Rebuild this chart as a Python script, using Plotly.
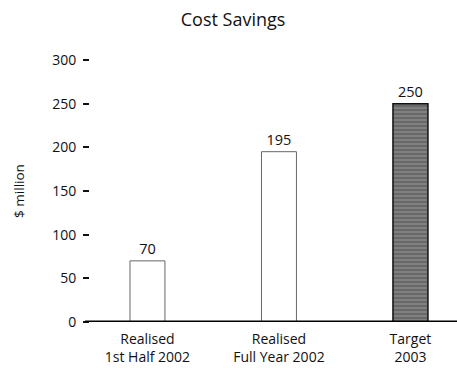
import plotly.graph_objects as go

categories = ["Realised<br>1st Half 2002", "Realised<br>Full Year 2002", "Target<br>2003"]
values = [70, 195, 250]
value_labels = ["70", "195", "250"]
y_ticks = [0, 50, 100, 150, 200, 250, 300]

FONT = "Open Sans"
W, H = 457, 368
L, R, T, B = 90, 0, 60, 46

fills = ["white", "white", "#808080"]
lines = ["#666666", "#666666", "#111111"]

fig = go.Figure()
fig.add_trace(go.Bar(
    x=[0, 1, 2],
    y=values,
    width=0.266,
    text=value_labels,
    textposition="outside",
    cliponaxis=False,
    textfont=dict(family=FONT, size=14.5, color="#111"),
    marker=dict(
        color=fills,
        line=dict(color=lines, width=[1, 1, 1.5]),
        pattern=dict(shape=["", "", "-"], fgcolor="#222222", size=4, solidity=0.4),
    ),
    showlegend=False,
))

left_px = 85
fig.add_shape(type="line", xref="paper", yref="y",
              x0=(left_px - L) / (W - L - R), x1=1, y0=0, y1=0,
              line=dict(color="black", width=3), layer="above")

fig.update_layout(
    width=W, height=H,
    margin=dict(l=L, r=R, t=T, b=B),
    paper_bgcolor="white", plot_bgcolor="white",
    font=dict(family=FONT, size=13, color="#111"),
    title=dict(text="Cost Savings", x=0.51, xanchor="center", y=0.946, yanchor="middle",
               font=dict(family=FONT, size=18, color="#111")),
    bargap=0.7,
    xaxis=dict(
        range=[-0.437, 2.354],
        tickmode="array", tickvals=[0, 1, 2], ticktext=categories,
        showgrid=False, zeroline=False, showline=False, ticks="",
        ticklabelstandoff=7,
        tickfont=dict(family=FONT, size=14, color="#111"),
    ),
    yaxis=dict(
        range=[0, 300],
        tickmode="array", tickvals=y_ticks, ticktext=[str(v) for v in y_ticks],
        showgrid=False, zeroline=False, showline=False,
        ticks="outside", ticklen=6, tickwidth=2, tickcolor="#111",
        ticklabelstandoff=4,
        tickfont=dict(family=FONT, size=14, color="#111"),
        title=dict(text="$ million", font=dict(family=FONT, size=13.5, color="#111"), standoff=24),
    ),
)

fig.write_html("out.html", config={"displayModeBar": False},
               post_script="document.body.style.margin='0';document.body.style.padding='0';")
